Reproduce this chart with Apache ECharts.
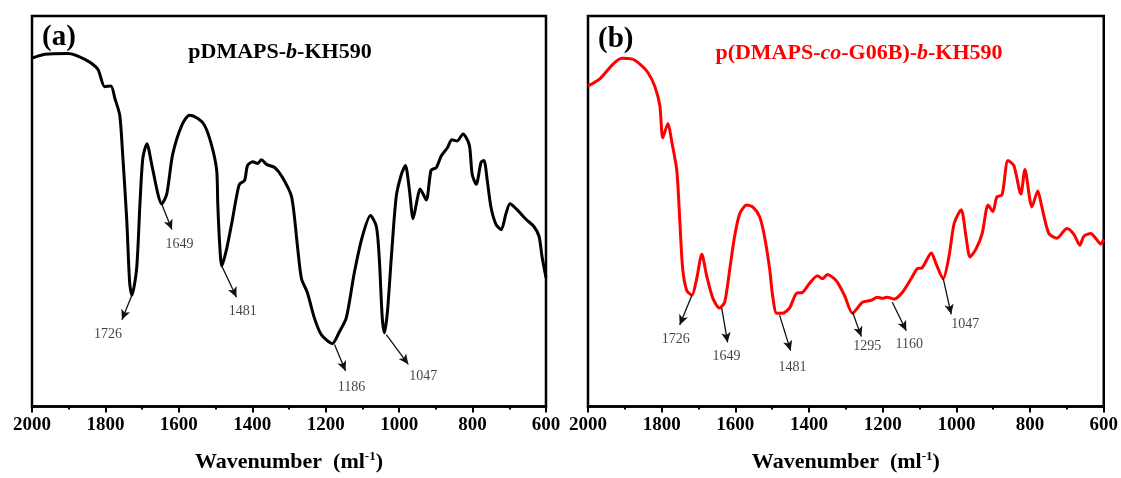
<!DOCTYPE html>
<html><head><meta charset="utf-8">
<script src="https://cdn.jsdelivr.net/npm/echarts@6/dist/echarts.min.js"></script>
<style>html,body{margin:0;padding:0;background:#fff}#c{width:1121px;height:478px}</style>
</head><body><div id="c"></div>
<script>
// ---- Data (wavenumber, relative transmittance 0-100) ----
const leftWn = [2000,1965,1902,1856,1821,1802,1785,1774,1761,1753,1742,1734,1728,1715,1706,1698,1687,1674,1657,1647,1633,1617,1592,1571,1549,1530,1511,1497,1494,1489,1483,1470,1456,1443,1435,1421,1413,1399,1386,1375,1361,1339,1318,1293,1277,1266,1250,1231,1212,1182,1163,1144,1122,1100,1078,1062,1054,1046,1040,1032,1021,1008,994,983,972,962,951,943,926,913,899,885,869,856,842,826,809,801,790,777,769,760,750,736,722,709,698,679,654,633,619,611,600];
const leftT  = [89.2,90.2,90.4,88.9,86.4,81.9,82.1,78.8,74.6,64.5,47.9,31.7,28.5,35.3,51.9,63.7,67.3,62.0,54.4,51.9,54.4,64.5,72.0,74.6,73.8,72.0,67.0,60.5,51.9,41.8,36.0,40.3,46.9,53.7,56.9,57.9,61.7,62.7,62.2,63.2,62.0,61.2,58.7,53.7,41.1,32.7,29.2,22.7,18.4,16.1,19.1,22.7,34.3,43.6,48.9,46.1,37.8,22.7,18.9,24.2,38.5,53.7,59.4,61.7,55.4,48.1,52.9,55.7,52.9,60.5,61.2,64.2,66.2,68.3,68.0,69.8,67.0,59.4,56.9,62.5,63.0,57.9,51.1,46.6,45.3,49.4,51.9,50.4,47.9,46.1,43.6,38.5,33.0];

const rightWn = [2000,1968,1932,1908,1878,1859,1838,1819,1805,1797,1783,1773,1759,1751,1743,1732,1718,1705,1691,1678,1661,1643,1629,1615,1602,1588,1569,1553,1534,1521,1507,1499,1488,1472,1453,1434,1418,1399,1377,1364,1350,1326,1304,1282,1255,1231,1215,1201,1188,1169,1147,1123,1106,1093,1068,1055,1036,1020,1006,987,974,963,947,930,914,901,890,876,860,844,825,814,795,779,768,749,727,700,681,665,654,635,622,608,600];
const rightT  = [82.1,83.9,87.7,89.2,88.9,87.7,85.6,82.1,77.1,68.8,72.5,68.0,60.5,47.9,35.3,29.7,28.5,32.7,39.0,33.5,27.7,25.2,26.7,35.3,43.6,49.4,51.6,51.1,48.6,43.6,35.3,28.5,23.9,23.9,25.2,29.0,29.2,31.5,33.5,32.7,33.8,32.2,28.5,23.9,26.7,27.2,28.0,27.7,28.0,27.5,29.2,32.7,35.3,35.5,39.3,36.5,32.7,38.5,46.9,50.4,43.6,38.3,40.3,44.3,51.6,49.9,53.7,54.2,63.0,61.7,54.4,60.7,51.1,55.2,51.1,44.3,43.1,45.6,44.1,41.3,43.6,44.3,43.1,41.6,42.8];

const xTicks = [2000,1800,1600,1400,1200,1000,800,600];

// ---- Peak annotations: label, arrow start, arrow tip, label anchor (data space) ----
const leftPeakLabels = ['1726','1649','1481','1186','1047'];
const leftArrowFrom  = [[1728,28.5],[1647,51.9],[1483,36.0],[1176,15.9],[1035,18.4]];
const leftArrowTo    = [[1755,22.2],[1619,45.3],[1443,28.0],[1146,9.1],[975,10.8]];
const leftLabelAt    = [[1793,18.6],[1598,41.6],[1426,24.3],[1130,5.0],[934,7.6]];

const rightPeakLabels = ['1726','1649','1481','1295','1160','1047'];
const rightArrowFrom  = [[1718,28.5],[1637,25.2],[1480,23.4],[1282,24.2],[1174,26.7],[1036,32.9]];
const rightArrowTo    = [[1751,20.9],[1621,16.4],[1450,14.3],[1258,17.9],[1136,19.4],[1014,23.6]];
const rightLabelAt    = [[1762,17.1],[1624,12.8],[1445,10.1],[1242,15.4],[1128,15.9],[976,21.1]];

const SERIF = '"Liberation Serif","Times New Roman",serif';

function pairs(series) { return series[0].map((w,i)=>[w, series[1][i]]); }
function arrows(from, to) {
  return from.map((f,i)=>[{coord:f, symbol:'none'},{coord:to[i], symbol:'arrow', symbolSize:[7,10]}]);
}
function labelPts(names, at) {
  return names.map((n,i)=>({name:n, value:at[i]}));
}

function xAxis(gridIndex) {
  return {
    type:'value', gridIndex, inverse:true, min:600, max:2000, interval:200,
    splitLine:{show:false},
    axisLine:{show:true, onZero:false, lineStyle:{color:'#000', width:2.5}},
    axisTick:{show:true, inside:false, length:6, lineStyle:{color:'#000', width:2}},
    minorTick:{show:true, splitNumber:2, length:3, lineStyle:{color:'#000', width:2}},
    axisLabel:{color:'#000', fontFamily:SERIF, fontWeight:'bold', fontSize:19, margin:9,
      formatter:v=> xTicks.includes(v) ? String(v) : ''},
    name:'{a|Wavenumber  (ml}{s|-1}{a|)}', nameLocation:'middle', nameGap:44,
    nameTextStyle:{rich:{
      a:{fontFamily:SERIF, fontWeight:'bold', fontSize:22, color:'#000'},
      s:{fontFamily:SERIF, fontWeight:'bold', fontSize:13, color:'#000', verticalAlign:'top', padding:[0,0,10,0]}
    }}
  };
}
function yAxis(gridIndex) {
  return {type:'value', gridIndex, min:0, max:100, show:true,
    axisLine:{show:false}, axisTick:{show:false}, axisLabel:{show:false}, splitLine:{show:false}};
}
function lineSeries(idx, data, color) {
  return {type:'line', xAxisIndex:idx, yAxisIndex:idx, data, showSymbol:false, smooth:0.25,
    lineStyle:{color, width:3}, silent:true};
}
function arrowSeries(idx, from, to) {
  return {type:'line', xAxisIndex:idx, yAxisIndex:idx, data:[], silent:true,
    markLine:{silent:true, symbol:['none','arrow'], symbolSize:10,
      lineStyle:{color:'#111', width:1.3, type:'solid'}, itemStyle:{color:'#111'}, label:{show:false},
      data:arrows(from,to)}};
}
function labelSeries(idx, names, at) {
  return {type:'scatter', xAxisIndex:idx, yAxisIndex:idx, symbolSize:0, silent:true,
    data:labelPts(names, at),
    label:{show:true, position:'inside', formatter:'{b}', color:'#111', fontFamily:SERIF, fontSize:14}};
}

const chart = echarts.init(document.getElementById('c'), null, {renderer:'canvas'});
chart.setOption({
  animation:false,
  backgroundColor:'#fff',
  grid:[
    {left:32, top:16, width:514, height:398, show:true, borderColor:'#000', borderWidth:2.5, backgroundColor:'transparent'},
    {left:588, top:16, width:517, height:398, show:true, borderColor:'#000', borderWidth:2.5, backgroundColor:'transparent'}
  ],
  xAxis:[xAxis(0), xAxis(1)],
  yAxis:[yAxis(0), yAxis(1)],
  series:[
    lineSeries(0, pairs([leftWn,leftT]), '#000'),
    arrowSeries(0, leftArrowFrom, leftArrowTo),
    labelSeries(0, leftPeakLabels, leftLabelAt),
    lineSeries(1, pairs([rightWn,rightT]), '#ff0000'),
    arrowSeries(1, rightArrowFrom, rightArrowTo),
    labelSeries(1, rightPeakLabels, rightLabelAt)
  ],
  graphic:[
    {type:'text', x:42, y:38, style:{text:'(a)', fontFamily:SERIF, fontWeight:'bold', fontSize:29, fill:'#000', verticalAlign:'middle'}},
    {type:'text', x:280, y:52, style:{text:'{n|pDMAPS-}{i|b}{n|-KH590}', align:'center', verticalAlign:'middle',
      rich:{n:{fontFamily:SERIF, fontWeight:'bold', fontSize:22, fill:'#000'}, i:{fontFamily:SERIF, fontWeight:'bold', fontStyle:'italic', fontSize:22, fill:'#000'}}}},
    {type:'text', x:598, y:40, style:{text:'(b)', fontFamily:SERIF, fontWeight:'bold', fontSize:29, fill:'#000', verticalAlign:'middle'}},
    {type:'text', x:859, y:53, style:{text:'{n|p(DMAPS-}{i|co}{n|-G06B)-}{i|b}{n|-KH590}', align:'center', verticalAlign:'middle',
      rich:{n:{fontFamily:SERIF, fontWeight:'bold', fontSize:22, fill:'#ff0000'}, i:{fontFamily:SERIF, fontWeight:'bold', fontStyle:'italic', fontSize:22, fill:'#ff0000'}}}}
  ]
});
</script></body></html>
